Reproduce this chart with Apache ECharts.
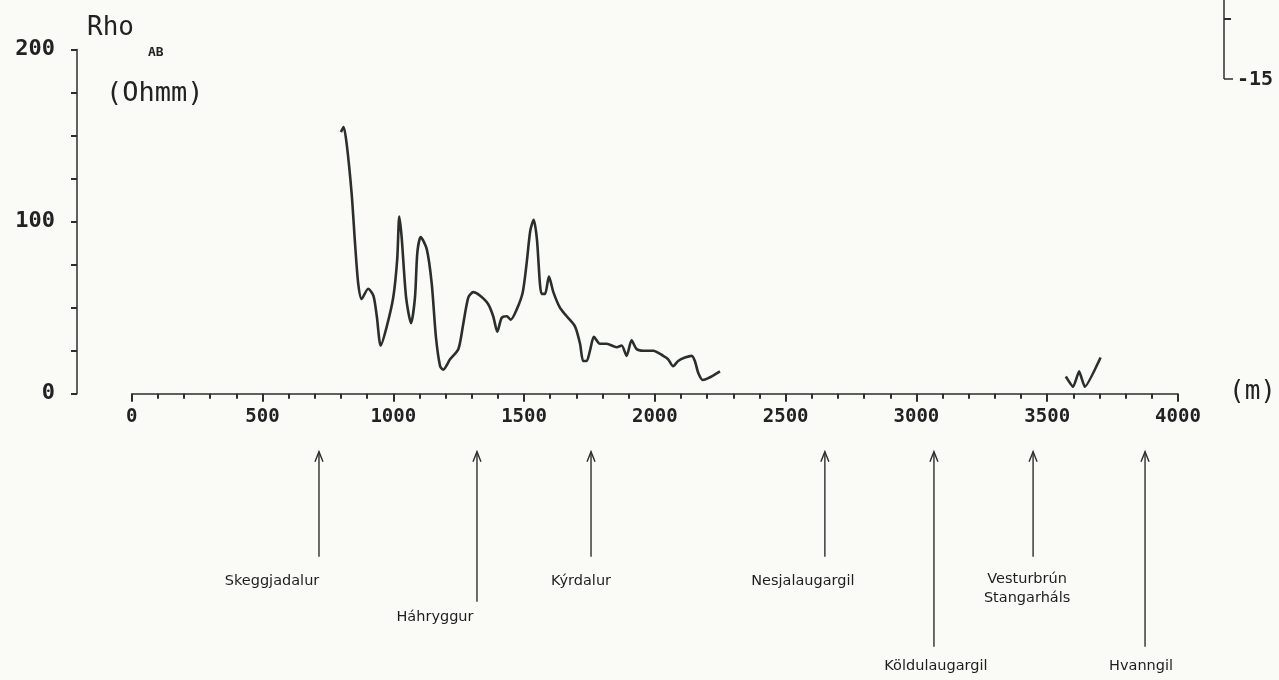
<!DOCTYPE html>
<html>
<head>
<meta charset="utf-8">
<script src="https://cdn.jsdelivr.net/npm/echarts@6/dist/echarts.min.js"></script>
<style>
  html, body { margin: 0; padding: 0; background: #fafaf6; }
  #chart { width: 1279px; height: 680px; }
</style>
</head>
<body>
<div id="chart"></div>
<script>
'use strict';

// profile distance (m) and apparent resistivity Rho_AB (Ohmm)
var distM = [800, 810, 822, 841, 854, 866, 879, 904, 924, 937, 952, 975, 1000, 1015, 1023, 1032,
  1049, 1068, 1083, 1092, 1105, 1128, 1147, 1163, 1179, 1191, 1217, 1249, 1268, 1287, 1306, 1331,
  1363, 1382, 1398, 1414, 1434, 1449, 1472, 1495, 1510, 1524, 1537, 1549, 1567, 1580, 1595, 1612,
  1637, 1663, 1695, 1714, 1726, 1739, 1752, 1767, 1790, 1816, 1854, 1873, 1892, 1911, 1930, 1956,
  1994, 2032, 2051, 2070, 2089, 2115, 2141, 2153, 2166, 2183, 2204, 2249];
var rhoAB = [152, 155, 145, 116, 87, 64, 55, 61, 57, 45, 28, 39, 56, 78, 103, 91,
  56, 41, 56, 82, 91, 84, 64, 33, 16, 14, 20, 26, 41, 56, 59, 57,
  52, 45, 36, 44, 45, 43, 49, 59, 76, 95, 101, 90, 58, 58, 68, 59,
  50, 45, 39, 29, 19, 19, 25, 33, 29, 29, 27, 28, 22, 31, 26, 25,
  25, 22, 20, 16, 19, 21, 22, 19, 12, 8, 9, 13];

// short second stretch near 3600 m
var tailDist = [3571, 3599, 3622, 3644, 3704];
var tailRho = [10, 4, 13, 4, 21];

// place names marked under the profile
var sites = ['Skeggjadalur', 'Háhryggur', 'Kýrdalur', 'Nesjalaugargil', 'Köldulaugargil',
  'Vesturbrún\nStangarháls', 'Hvanngil'];
var siteDist = [716, 1320, 1756, 2650, 3067, 3446, 3874];

var xTicks = [0, 500, 1000, 1500, 2000, 2500, 3000, 3500, 4000];
var yTicks = [0, 100, 200];

// layout of the arrows: drop length (px), text gap and shift (px)
var siteLayout = {
  'Skeggjadalur': { len: 105, gap: 25, dx: -47 },
  'Háhryggur': { len: 150, gap: 16, dx: -42 },
  'Kýrdalur': { len: 105, gap: 25, dx: -10 },
  'Nesjalaugargil': { len: 105, gap: 25, dx: -22 },
  'Köldulaugargil': { len: 195, gap: 20, dx: 2 },
  'Vesturbrún\nStangarháls': { len: 105, gap: 32, dx: -6 },
  'Hvanngil': { len: 195, gap: 20, dx: -4 }
};

var ink = '#2b2f2c';
var mono = '"DejaVu Sans Mono", monospace';

var pairs = function(xs, ys) {
  return xs.map(function(x, i) { return [x, ys[i]]; });
};

var chart = echarts.init(document.getElementById('chart'));

var option = {
  backgroundColor: '#fafaf6',
  animation: false,
  grid: {
    left: 131.7,
    right: 101,
    top: 49.5,
    bottom: 286.3,
    outerBoundsMode: 'none'
  },
  xAxis: {
    type: 'value',
    min: 0,
    max: 4000,
    interval: 500,
    axisLine: { show: true, onZero: false, lineStyle: { color: ink, width: 1.5 } },
    axisTick: { show: true, length: 8, lineStyle: { color: ink, width: 2 } },
    minorTick: { show: true, splitNumber: 5, length: 5, lineStyle: { color: ink, width: 2 } },
    splitLine: { show: false },
    axisLabel: {
      margin: 14,
      color: '#222',
      fontFamily: mono,
      fontWeight: 'bold',
      fontSize: 19,
      showMinLabel: true,
      showMaxLabel: true,
      formatter: function(v) { return xTicks.indexOf(v) >= 0 ? String(v) : ''; }
    }
  },
  yAxis: {
    type: 'value',
    min: 0,
    max: 200,
    interval: 25,
    offset: 54.7,
    axisLine: { show: true, onZero: false, lineStyle: { color: ink, width: 1.5 } },
    axisTick: { show: true, length: 6, lineStyle: { color: ink, width: 2 } },
    splitLine: { show: false },
    axisLabel: {
      margin: 22,
      color: '#222',
      fontFamily: mono,
      fontWeight: 'bold',
      fontSize: 22,
      showMinLabel: true,
      showMaxLabel: true,
      formatter: function(v) { return yTicks.indexOf(v) >= 0 ? String(v) : ''; }
    }
  },
  series: [
    {
      name: 'Rho_AB',
      type: 'line',
      data: pairs(distM, rhoAB),
      smooth: 0.25,
      showSymbol: false,
      lineStyle: { color: ink, width: 2.6 }
    },
    {
      name: 'Rho_AB tail',
      type: 'line',
      data: pairs(tailDist, tailRho),
      smooth: 0.15,
      showSymbol: false,
      lineStyle: { color: ink, width: 2.6 }
    },
    {
      name: 'sites',
      type: 'custom',
      clip: false,
      silent: true,
      data: siteDist.map(function(d, i) { return [d, 0, i]; }),
      encode: { x: 0, y: 1 },
      renderItem: function(params, api) {
        var name = sites[api.value(2)];
        var lay = siteLayout[name];
        var p = api.coord([api.value(0), 0]);
        var x = p[0];
        var top = p[1] + 58;
        var bottom = top + lay.len;
        return {
          type: 'group',
          children: [
            {
              type: 'line',
              shape: { x1: x, y1: top, x2: x, y2: bottom },
              style: { stroke: ink, lineWidth: 1.4 }
            },
            {
              type: 'polyline',
              shape: { points: [[x - 4, top + 10], [x, top], [x + 4, top + 10]] },
              style: { stroke: ink, fill: null, lineWidth: 1.4 }
            },
            {
              type: 'text',
              x: x + lay.dx,
              y: bottom + lay.gap,
              style: {
                text: name,
                fill: '#1e1e1e',
                font: '14.5px "DejaVu Sans", sans-serif',
                lineHeight: 19,
                align: 'center',
                verticalAlign: 'middle'
              }
            }
          ]
        };
      }
    }
  ],
  graphic: [
    { type: 'text', left: 87, top: 15,
      style: { text: 'Rho', font: '26px ' + mono, fill: '#222' } },
    { type: 'text', left: 148, top: 46,
      style: { text: 'AB', font: 'bold 13px ' + mono, fill: '#222' } },
    { type: 'text', left: 106, top: 80,
      style: { text: '(Ohmm)', font: '27px ' + mono, fill: '#222' } },
    { type: 'text', left: 1229, top: 379,
      style: { text: '(m)', font: '26px ' + mono, fill: '#222' } },
    // cut-off axis fragment in the top right corner
    { type: 'line', shape: { x1: 1224, y1: 0, x2: 1224, y2: 79 },
      style: { stroke: ink, lineWidth: 1.5 } },
    { type: 'line', shape: { x1: 1224, y1: 19, x2: 1231, y2: 19 },
      style: { stroke: ink, lineWidth: 2 } },
    { type: 'line', shape: { x1: 1224, y1: 79, x2: 1233, y2: 79 },
      style: { stroke: ink, lineWidth: 1.5 } },
    { type: 'text', left: 1237, top: 70,
      style: { text: '-15', font: 'bold 20px ' + mono, fill: '#222' } }
  ]
};

chart.setOption(option);
</script>
</body>
</html>
